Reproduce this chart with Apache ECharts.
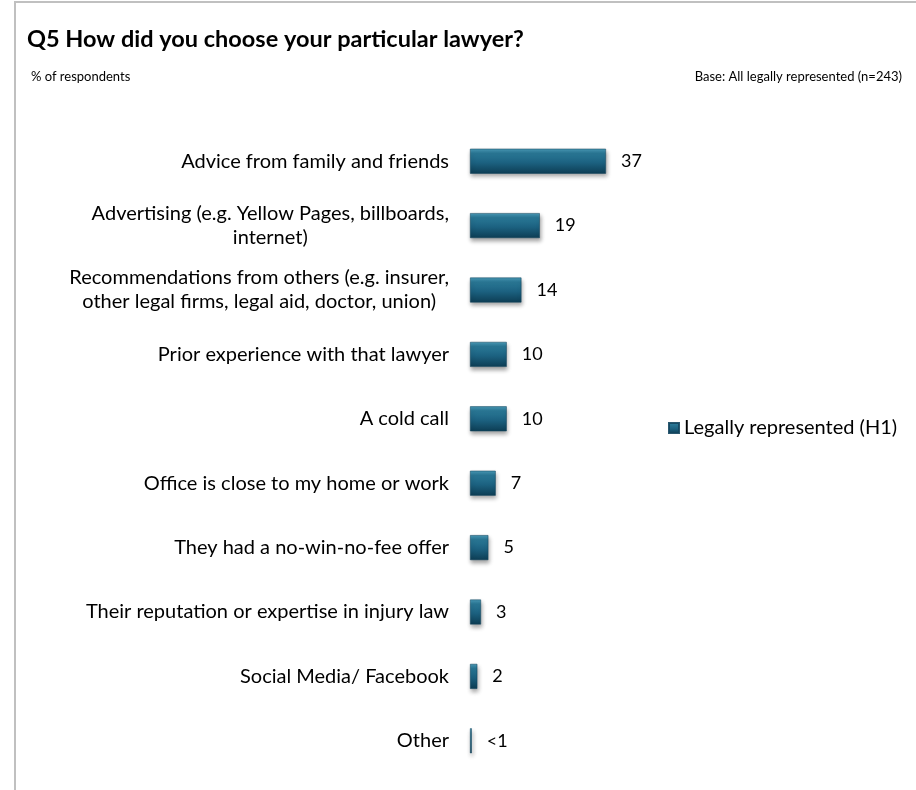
<!DOCTYPE html>
<html>
<head>
<meta charset="utf-8">
<title>Q5 How did you choose your particular lawyer?</title>
<script src="https://cdn.jsdelivr.net/npm/echarts@6/dist/echarts.min.js"></script>
<style>
  html, body { margin: 0; padding: 0; background: #ffffff; }
  #chart { width: 916px; height: 790px; }
</style>
</head>
<body>
<div id="chart"></div>
<script>
// Reasons given for choosing a lawyer, top to bottom
const categories = [
  'Advice from family and friends',
  'Advertising (e.g. Yellow Pages, billboards,\ninternet)',
  'Recommendations from others (e.g. insurer,\nother legal firms, legal aid, doctor, union)',
  'Prior experience with that lawyer',
  'A cold call',
  'Office is close to my home or work',
  'They had a no-win-no-fee offer',
  'Their reputation or expertise in injury law',
  'Social Media/ Facebook',
  'Other'
];

// % of respondents (Other is below 1%, shown as "<1")
const legallyRepresented = [37, 19, 14, 10, 10, 7, 5, 3, 2, 0.5];

const seriesName = 'Legally represented (H1)';
const titleText = 'Q5 How did you choose your particular lawyer?';
const unitText = '% of respondents';
const baseText = 'Base: All legally represented (n=243)';

const FONT = 'Lato, "Open Sans", sans-serif';

// bevelled teal fill: light top edge fading to a dark lower edge
const barFill = new echarts.graphic.LinearGradient(0, 0, 0, 1, [
  { offset: 0, color: '#4a9bb8' },
  { offset: 0.18, color: '#2a7896' },
  { offset: 0.55, color: '#1c6281' },
  { offset: 1, color: '#0d3d54' }
]);

const chart = echarts.init(document.getElementById('chart'), null, { renderer: 'canvas' });

chart.setOption({
  backgroundColor: '#ffffff',
  animation: false,
  title: [
    {
      text: titleText,
      left: 22,
      top: 22,
      textStyle: { fontFamily: FONT, fontWeight: 'bold', fontSize: 23.5, color: '#000000' }
    },
    {
      text: unitText,
      left: 26,
      top: 65,
      textStyle: { fontFamily: FONT, fontWeight: 'normal', fontSize: 13, color: '#000000' }
    },
    {
      text: baseText,
      right: 9,
      top: 65,
      textStyle: { fontFamily: FONT, fontWeight: 'normal', fontSize: 13, color: '#000000' }
    }
  ],
  graphic: [
    {
      type: 'polyline',
      shape: { points: [[15, 790], [15, 2], [916, 2]] },
      style: { stroke: '#c0c0c0', lineWidth: 2, fill: null },
      silent: true
    }
  ],
  legend: {
    left: 663,
    top: 413,
    itemWidth: 10,
    itemHeight: 10,
    icon: 'rect',
    textStyle: { fontFamily: FONT, fontSize: 20, color: '#000000' },
    data: [seriesName]
  },
  grid: {
    left: 470,
    right: 299,
    top: 129,
    bottom: 17,
    containLabel: false
  },
  xAxis: {
    type: 'value',
    min: 0,
    max: 40,
    show: false
  },
  yAxis: {
    type: 'category',
    inverse: true,
    data: categories,
    axisLine: { show: false },
    axisTick: { show: false },
    splitLine: { show: false },
    axisLabel: {
      margin: 21,
      fontFamily: FONT,
      fontSize: 20,
      color: '#000000',
      lineHeight: 24,
      formatter: function (value) {
        return value.split('\n').map(function (line) { return '{c|' + line + '}'; }).join('\n');
      },
      rich: {
        c: { align: 'center', fontFamily: FONT, fontSize: 20, lineHeight: 24, color: '#000000' }
      }
    }
  },
  series: [
    {
      name: seriesName,
      type: 'bar',
      data: legallyRepresented,
      barWidth: 25,
      itemStyle: {
        color: barFill,
        borderColor: 'rgba(20,70,95,0.9)',
        borderWidth: 0.6,
        shadowColor: 'rgba(0,0,0,0.35)',
        shadowBlur: 4,
        shadowOffsetX: 1,
        shadowOffsetY: 3
      },
      label: {
        show: true,
        position: 'right',
        distance: 15,
        fontFamily: FONT,
        fontSize: 18,
        color: '#000000',
        formatter: function (p) { return p.value < 1 ? '<1' : String(p.value); }
      }
    }
  ]
});
</script>
</body>
</html>
